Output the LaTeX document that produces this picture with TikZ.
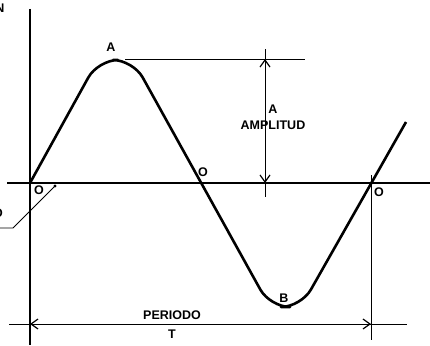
\documentclass[tikz,border=0pt]{standalone}
\usepackage{fontspec}
\setmainfont{Liberation Sans}
\usetikzlibrary{arrows.meta,positioning}

\begin{document}
\begin{tikzpicture}[x=1pt,y=-1pt,font=\bfseries\fontsize{12.5}{14}\selectfont,
      ax/.style={line width=1.6pt},
      wave/.style={line width=2.6pt,rounded corners=20pt,line join=round},
      dim/.style={line width=0.8pt},
      a/.style={dim,-{Straight Barb[length=7pt,width=10pt,line width=1.2pt]}},
      lbl/.style={inner sep=0pt}]
      \useasboundingbox (0,0) rectangle (430,345);
      % axes
      \coordinate (o)  at (30,183);
      \coordinate (xl) at (7,183);   \coordinate (xr) at (430,183);
      \coordinate (yt) at (30,9);    \coordinate (yb) at (30,345);
      \draw[ax] (xl) -- (xr);
      \draw[ax] (yt) -- (yb);
      \node[lbl,anchor=east] (n) at (4.5,8) {N};
      % wave
      \draw[wave] (o) -- (98,60) -- (133,60) -- (270,307) -- (301,307) -- (406,122);
      \node[lbl] (pa) at (111,47) {A};
      \node[lbl] (pb) at (284,298) {B};
      \node[lbl] (o1) at (39,190) {O};
      \node[lbl] (o2) at (203,172) {O};
      \node[lbl] (o3) at (379,192) {O};
      % amplitude
      \coordinate (at1) at (125,59);  \coordinate (at2) at (305,59);
      \coordinate (ah) at (265,59);   \coordinate (ab) at (265,183);
      \draw[dim] (at1) -- (at2);
      \draw[dim] (265,49) -- (ah);  \draw[dim] (ab) -- (265,197);
      \draw[a] (ab) -- (ah);
      \draw[a] (ah) -- (ab);
      \node[lbl] (amp) at (273,109) {A};
      \node[lbl,below=7pt of amp.south,anchor=north] (ampt) {AMPLITUD};
      % period
      \coordinate (pl) at (9,324);   \coordinate (pr) at (407,324);
      \coordinate (p1) at (30,324);  \coordinate (p2) at (371,324);
      \coordinate (e1) at (371,175); \coordinate (e2) at (371,340);
      \draw[dim] (e1) -- (e2);
      \draw[dim] (pl) -- (pr);
      \draw[a] (p2) -- (p1);
      \draw[a] (p1) -- (p2);
      \node[lbl] (per) at (172,315) {PERIODO};
      \node[lbl] (t) at (172,334) {T};
      % origin leader
      \coordinate (d) at (55,186);
      \coordinate (k) at (13,228);
      \fill (d) circle (1.6pt);
      \draw[dim] (d) -- (k) -- (0,228);
      \node[lbl] (o0) at (-2,213) {O};
    \end{tikzpicture}
\end{document}
